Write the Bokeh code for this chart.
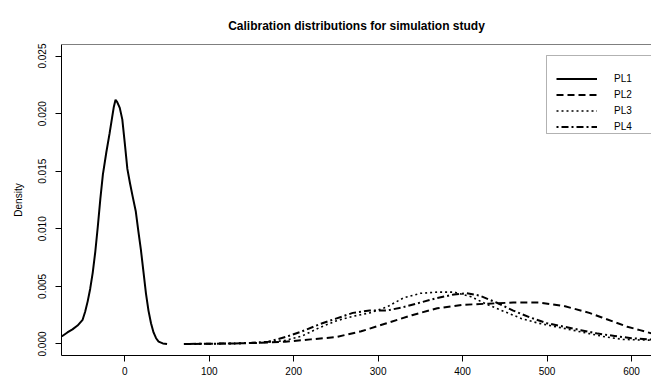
from bokeh.plotting import figure
from bokeh.models import (Range1d, FixedTicker, PrintfTickFormatter, Legend,
                          LegendItem, Span, BoxAnnotation)
from bokeh.embed import file_html
from bokeh.resources import INLINE

# Density estimates of the four calibration distributions
pl1_x = [-76, -74, -68, -62, -56, -50, -47, -44, -41, -38, -35, -32, -29, -26,
         -22, -18, -15, -13, -11, -9, -6, -3, 0, 3, 6, 9, 13, 16, 19, 22, 25,
         28, 31, 34, 37, 40, 45, 50]
pl1_y = [0.00066, 0.00069, 0.0010, 0.00127, 0.0016, 0.0021, 0.0028, 0.0037,
         0.0048, 0.0062, 0.0080, 0.0102, 0.0126, 0.0147, 0.0166, 0.0183,
         0.0197, 0.0206, 0.0212, 0.0210, 0.0205, 0.0195, 0.0174, 0.0152,
         0.0140, 0.0129, 0.0115, 0.0098, 0.0082, 0.0063, 0.0044, 0.0029,
         0.0018, 0.0010, 0.0005, 0.0002, 0.00005, 0.0]

pl2_x = [70, 100, 130, 160, 190, 220, 250, 280, 310, 340, 370, 400, 430, 460,
         490, 520, 550, 565, 580, 595, 610, 625, 640]
pl2_y = [0.0, 0.00002, 0.00005, 0.0001, 0.0002, 0.0004, 0.0006, 0.0011,
         0.0018, 0.0025, 0.0031, 0.0034, 0.0035, 0.0036, 0.0036, 0.0033,
         0.0027, 0.0023, 0.0019, 0.0015, 0.0012, 0.0009, 0.0007]

pl3_x = [70, 100, 130, 160, 190, 210, 230, 250, 270, 290, 310, 330, 350, 370,
         390, 410, 430, 450, 470, 490, 510, 530, 550, 570, 590, 610, 640]
pl3_y = [0.0, 0.00002, 0.00004, 0.0001, 0.0003, 0.0007, 0.0014, 0.0020,
         0.0024, 0.0027, 0.0032, 0.0040, 0.0044, 0.0045, 0.0045, 0.0041,
         0.0034, 0.0028, 0.0022, 0.0018, 0.0015, 0.0012, 0.0009, 0.0006,
         0.0004, 0.00035, 0.0003]

pl4_x = [70, 100, 130, 150, 170, 190, 210, 230, 250, 270, 290, 310, 330, 350,
         370, 390, 405, 420, 440, 460, 480, 500, 520, 540, 560, 580, 600, 620,
         640]
pl4_y = [0.0, 0.00002, 0.00005, 0.0001, 0.0002, 0.0006, 0.0011, 0.0017,
         0.0022, 0.0027, 0.0029, 0.0029, 0.0032, 0.0036, 0.0040, 0.0043,
         0.0044, 0.0042, 0.0036, 0.0029, 0.0023, 0.0018, 0.0015, 0.0012,
         0.0009, 0.0007, 0.0005, 0.0004, 0.0003]

series_names = ["PL1", "PL2", "PL3", "PL4"]
x_ticks = [0, 100, 200, 300, 400, 500, 600]
y_ticks = [0.000, 0.005, 0.010, 0.015, 0.020, 0.025]

FONT = "Liberation Sans"

p = figure(width=651, height=383, output_backend="svg", toolbar_location=None,
           x_range=Range1d(-75.0, 623.7), y_range=Range1d(-0.001, 0.026),
           min_border_left=61, min_border_right=0, min_border_top=44,
           min_border_bottom=28,
           title="Calibration distributions for simulation study")

p.title.align = "center"
p.title.text_font = FONT
p.title.text_font_size = "12px"
p.title.text_font_style = "bold"
p.title.text_color = "black"
p.title.standoff = 23

p.outline_line_color = None
p.xgrid.visible = False
p.ygrid.visible = False
p.background_fill_color = "white"
p.border_fill_color = "white"

for ax in (p.xaxis[0], p.yaxis[0]):
    ax.axis_line_color = "black"
    ax.axis_line_width = 1
    ax.major_tick_line_color = "black"
    ax.major_tick_out = 6
    ax.major_tick_in = 0
    ax.minor_tick_line_color = None
    ax.major_label_text_font = FONT
    ax.major_label_text_font_size = "10px"
    ax.major_label_text_color = "black"

p.xaxis[0].ticker = FixedTicker(ticks=x_ticks)
p.xaxis[0].major_label_standoff = 5

p.yaxis[0].ticker = FixedTicker(ticks=y_ticks)
p.yaxis[0].formatter = PrintfTickFormatter(format="%.3f")
p.yaxis[0].major_label_orientation = "vertical"
p.yaxis[0].major_label_standoff = 9
p.yaxis[0].axis_label = "Density"
p.yaxis[0].axis_label_text_font = FONT
p.yaxis[0].axis_label_text_font_size = "10px"
p.yaxis[0].axis_label_text_font_style = "normal"
p.yaxis[0].axis_label_text_color = "black"
p.yaxis[0].axis_label_standoff = 12

# top edge of the plot box
p.add_layout(Span(location=0.026, dimension="width", line_color="black",
                  line_width=1))

r1 = p.line(pl1_x, pl1_y, line_color="black", line_width=2)
r2 = p.line(pl2_x, pl2_y, line_color="black", line_width=2, line_dash="7 4")
r3 = p.line(pl3_x, pl3_y, line_color="black", line_width=1.6, line_dash="2 3")
r4 = p.line(pl4_x, pl4_y, line_color="black", line_width=2,
            line_dash="2 3 7 3")

# legend frame
p.add_layout(BoxAnnotation(left=485, right=700, bottom=222, top=300,
                           left_units="screen", right_units="screen",
                           bottom_units="screen", top_units="screen",
                           fill_alpha=0, line_color="black", line_width=1))

legend = Legend(items=[LegendItem(label=n, renderers=[r])
                       for n, r in zip(series_names, [r1, r2, r3, r4])],
                location=(495, 221), border_line_color=None,
                background_fill_alpha=0, padding=8, spacing=1, margin=0,
                glyph_width=41, glyph_height=15, label_height=15,
                label_standoff=17, label_text_font=FONT,
                label_text_font_size="10px", label_text_color="black")
p.add_layout(legend)

open("out.html", "w").write(file_html(p, INLINE))
